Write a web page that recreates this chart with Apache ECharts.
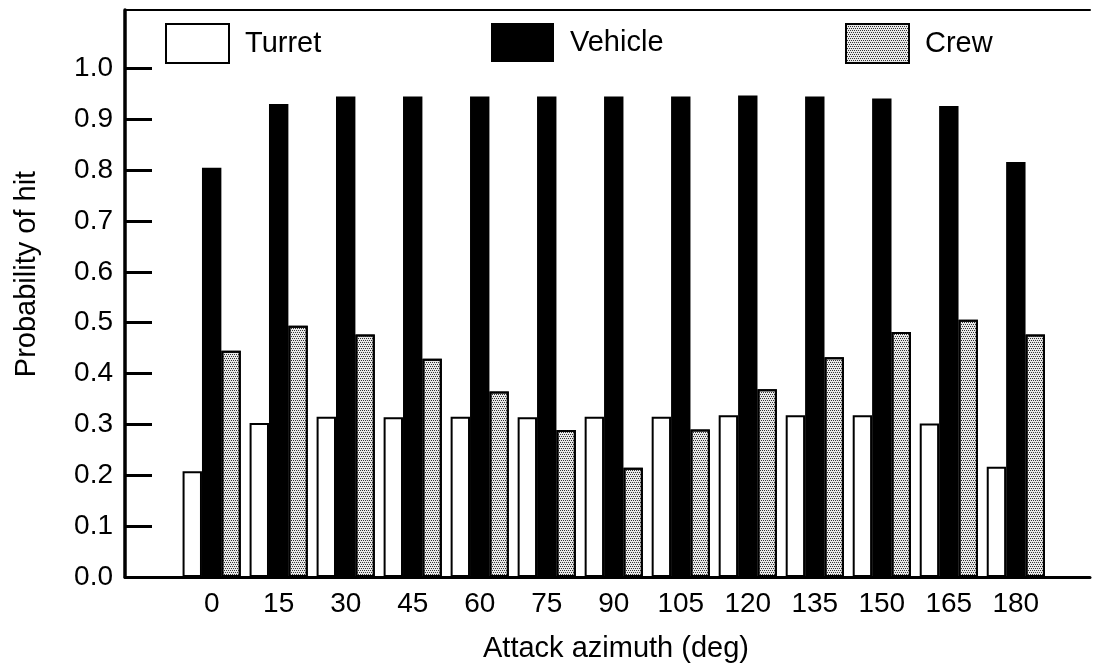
<!DOCTYPE html>
<html>
<head>
<meta charset="utf-8">
<script src="https://cdn.jsdelivr.net/npm/echarts@6/dist/echarts.min.js"></script>
<style>
html,body{margin:0;padding:0;background:#fff;}
#chart{width:1094px;height:665px;}
</style>
</head>
<body>
<div id="chart"></div>
<script>
var azimuths = [0, 15, 30, 45, 60, 75, 90, 105, 120, 135, 150, 165, 180];
var turret  = [0.208, 0.303, 0.315, 0.314, 0.315, 0.314, 0.315, 0.315, 0.318, 0.318, 0.318, 0.302, 0.217];
var vehicle = [0.805, 0.930, 0.945, 0.945, 0.945, 0.945, 0.945, 0.945, 0.947, 0.945, 0.941, 0.926, 0.816];
var crew    = [0.445, 0.494, 0.477, 0.429, 0.365, 0.289, 0.215, 0.290, 0.369, 0.432, 0.482, 0.506, 0.477];
var yTicks  = [0, 0.1, 0.2, 0.3, 0.4, 0.5, 0.6, 0.7, 0.8, 0.9, 1.0];
var xTicks  = azimuths;

var FONT = 'Liberation Sans, Arial, Helvetica, sans-serif';

function pairs(vals) {
  return azimuths.map(function (a, i) { return [a, vals[i]]; });
}

var chart = echarts.init(document.getElementById('chart'), null, {renderer: 'canvas'});

var legendBase = {
  orient: 'horizontal',
  top: 23,
  padding: 0,
  icon: 'rect',
  itemWidth: 63,
  itemHeight: 39,
  selectedMode: false,
  textStyle: {fontFamily: FONT, fontSize: 29, color: '#000', padding: [0, 0, 0, 11]}
};

var option = {
  backgroundColor: '#ffffff',
  animation: false,
  grid: {left: 125, right: 4, top: 10, bottom: 88, containLabel: false},
  legend: [
    Object.assign({}, legendBase, {left: 165, data: ['Turret']}),
    Object.assign({}, legendBase, {left: 491, data: ['Vehicle']}),
    Object.assign({}, legendBase, {left: 845, data: ['Crew']})
  ],
  xAxis: [{
    type: 'value',
    min: -19.4,
    max: 196.6,
    position: 'bottom',
    axisLine: {show: true, onZero: false, lineStyle: {color: '#000', width: 3}},
    axisTick: {show: false},
    splitLine: {show: false},
    axisLabel: {
      show: true,
      customValues: xTicks,
      margin: 13,
      fontFamily: FONT, fontSize: 28, color: '#000',
      formatter: function (v) { return String(v); }
    }
  }, {
    type: 'value',
    min: -19.4,
    max: 196.6,
    position: 'top',
    axisLine: {show: true, onZero: false, lineStyle: {color: '#000', width: 2}},
    axisTick: {show: false},
    splitLine: {show: false},
    axisLabel: {show: false}
  }],
  yAxis: {
    type: 'value',
    min: 0,
    max: 1.115,
    axisLine: {show: true, onZero: false, lineStyle: {color: '#000', width: 3.5}},
    axisTick: {show: true, inside: true, length: 27, customValues: yTicks, lineStyle: {color: '#000', width: 3}},
    splitLine: {show: false},
    axisLabel: {
      customValues: yTicks,
      margin: 12,
      fontFamily: FONT, fontSize: 28, color: '#000',
      formatter: function (v) { return v.toFixed(1); }
    }
  },
  graphic: [
    {type: 'text', x: 27, y: 274, rotation: Math.PI / 2,
     style: {text: 'Probability of hit', fontFamily: FONT, fontSize: 29, fill: '#000', align: 'center', verticalAlign: 'middle'}},
    {type: 'text', x: 616, y: 649,
     style: {text: 'Attack azimuth (deg)', fontFamily: FONT, fontSize: 29, fill: '#000', align: 'center', verticalAlign: 'middle'}}
  ],
  series: [
    {
      name: 'Turret', type: 'bar', data: pairs(turret),
      barWidth: 19.4, barGap: '0%',
      itemStyle: {color: '#ffffff', borderColor: '#000', borderWidth: 2}
    },
    {
      name: 'Vehicle', type: 'bar', data: pairs(vehicle),
      barWidth: 19.4, barGap: '0%',
      itemStyle: {color: '#000000', borderColor: '#000', borderWidth: 0}
    },
    {
      name: 'Crew', type: 'bar', data: pairs(crew),
      barWidth: 19.4, barGap: '0%',
      itemStyle: {
        color: '#e8e8e8', borderColor: '#000', borderWidth: 2,
        decal: {symbol: 'rect', symbolSize: 1, color: '#333333',
                dashArrayX: [[1, 1], [0, 1, 1, 0]], dashArrayY: [1, 1], rotation: 0}
      }
    }
  ]
};

chart.setOption(option);
</script>
</body>
</html>
